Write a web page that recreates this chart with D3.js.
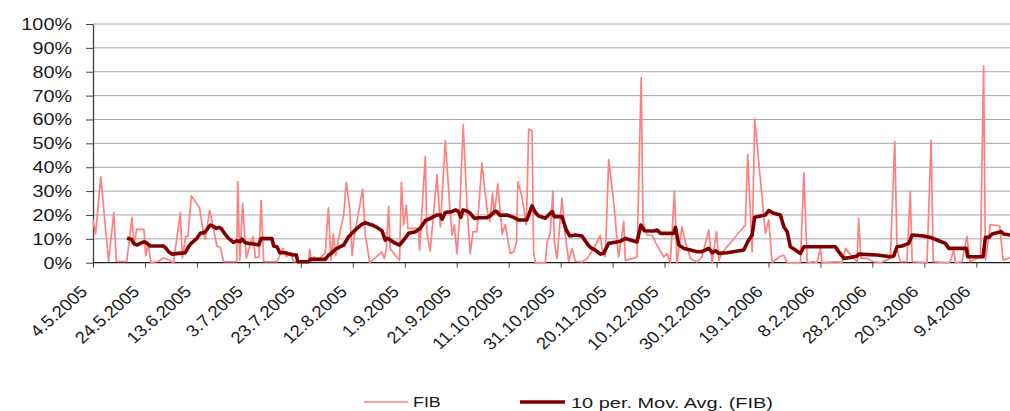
<!DOCTYPE html>
<html>
<head>
<meta charset="utf-8">
<script src="https://cdnjs.cloudflare.com/ajax/libs/d3/7.8.5/d3.min.js"></script>
<style>
  html, body { margin: 0; padding: 0; background: #fff; }
  svg { display: block; }
  text { font-family: "Liberation Sans", Arial, sans-serif; fill: #1a1a1a; }
</style>
</head>
<body>
<svg id="chart" width="1010" height="411"></svg>
<script>
// ---------------- data ----------------
const startDateLabel = "4.5.2005";
const xTickLabels = ["4.5.2005","24.5.2005","13.6.2005","3.7.2005","23.7.2005","12.8.2005",
  "1.9.2005","21.9.2005","11.10.2005","31.10.2005","20.11.2005","10.12.2005","30.12.2005",
  "19.1.2006","8.2.2006","28.2.2006","20.3.2006","9.4.2006"];
const yTickValues = [0,0.1,0.2,0.3,0.4,0.5,0.6,0.7,0.8,0.9,1.0];
const seriesNames = ["FIB", "10 per. Mov. Avg. (FIB)"];

// FIB: day offset from 4.5.2005, value in %
const fibDay = [0,1,3,6,8,9,13,15,15.8,16.8,19.6,20.3,21.2,22.3,25,27.2,29.5,31,33.6,34.4,35.7,36.5,37.9,41,
  42.6,43.2,44.9,46.4,47.7,49,50.3,55.3,55.7,56.5,57.6,59,60.3,61.6,62.5,63.9,64.7,65.7,70.8,73.1,74.4,76,
  77.2,83,83.4,84,85.2,86.2,89.4,90.6,91.6,92.5,93.4,94.5,96.5,97.5,98.8,99.7,100.6,103.8,104.8,105.5,106.5,
  111.2,112.1,112.9,113.8,114.4,116.4,118,118.7,119.6,120.6,121.2,125.3,125.7,127.9,128.5,129.8,132.4,133.7,
  135.6,137.3,138.2,139.1,140.1,140.9,142.5,144,145.2,146.3,147.8,149.7,151.6,152.7,153.8,154.5,155.8,157.5,
  158.7,160.6,161.9,163,163.5,165.1,166.8,167.7,169,169.6,170.3,174.1,174.8,176,177,177.6,178.6,180.5,181.8,
  183.1,184.4,185.7,188.2,190.2,192.7,195.3,195.9,197.2,198.5,200.4,202.3,204.3,204.9,207.5,209.4,211,211.7,
  213.3,215.2,217.1,219.7,221,222.2,223.8,224.8,226.7,228,230,232.5,234.4,237,238.3,240,240.9,242.1,251.1,
  252,253.7,254.7,258.8,260.1,261.4,264.6,265.9,267.2,272.3,273.6,274.9,277.4,278.7,280,280.6,286.4,288.3,
  289.6,292.2,294.1,294.7,295.6,297.9,300.5,303.1,306.9,308.6,309.5,310.8,313.3,314.6,315.3,321,322.6,323.4,
  328.8,330,331.3,332,334.5,336.4,337.5,341.6,342.8,343.5,345.4,349,350.3,353];
const fibValue = [18,12,36,0.5,21,0.5,0.5,19,7,14,14,3,8,0,0.5,2,1,0,21,2,11,11,28,23,
  12,10,22,14,7,6.5,0.4,0.4,34,1,25,2,7,11,2,2.5,26,0.4,0.4,6,2.5,4,
  0.4,0.5,5.6,1,2.5,1,4,23,1,12,3,10,20,33.7,22.8,3,11.5,30.8,11.5,7,0,
  4.5,1.7,5.9,23.5,5.9,3,1,33.7,15.8,24,14.4,14.4,5.2,44.6,13,4.8,36.9,15,
  51,24,11.5,15.8,3.8,15.8,57.7,22.8,3.8,13,13,41.8,22.8,17.2,29.2,20,33,12,
  16,3.8,4.5,8.7,34,27.7,15.8,56,55.2,4.5,0,0,8.7,12.3,30,8.7,1.7,27,11.5,
  0.6,5.9,0.6,0.3,1.7,5.9,11.5,5.9,2.4,43.2,25.6,2.4,17.2,1,1.7,2.4,77.7,17.2,
  11.5,11.5,7.3,2.4,3.8,0,29.9,0,15,8.7,1.7,0.3,2.4,13.7,0,13,1,4.2,15.8,
  45.4,4.5,60.5,12.3,17.9,0,2.8,3.1,0,0,37.6,0,0.4,0,6,0,0.4,0,
  6,2.5,0.4,18.6,1.8,1.8,0.4,0,1.8,50.7,5.3,0.4,0.4,29.8,0.4,0,51.4,0.4,
  0,0.4,5.3,0,0.4,11,0.4,2.5,82.4,1.1,16,15.4,1.1,2];

// 10 period moving average as drawn: day offset, value in %
const maDay = [13.1,14.8,15.7,17,18.2,19.8,20.8,22.1,27.2,28.1,29.1,30.4,33,35.5,36.8,38.1,40,41.3,42.9,43.9,
  45.2,46.4,47.5,48.4,49.3,50.6,52.2,54.1,55.4,56.5,57.4,58.6,59.9,62.5,63.8,64.7,68.9,69.5,70.8,71.9,74,
  75.7,77.2,78.3,78.8,83,83.7,89.4,90.7,91.7,93.3,95.2,96.5,98.4,99.7,101.6,103.5,104.8,106.1,107.4,109.3,
  111.2,112.5,113.4,114.4,116.4,118,119.6,121.5,124.1,126,127.9,129.8,132.4,133.7,134.4,135.6,138.2,139.5,
  140.7,141.6,142.4,143.9,145.2,146.8,148.4,151.6,152.9,154.5,155.5,156.5,159.3,161.9,163.8,167,169,170.3,
  171.5,174.1,176.7,177.6,180.5,182.2,183.5,185.6,188.2,190.1,191.4,193.3,195.3,196.5,198.5,200.4,203,204.9,
  206.8,209.4,210.9,212.2,215.8,217.1,218.4,223.5,224.2,225.5,227.4,230,232.5,234.4,237,238.3,239.6,240.9,
  244.1,250.5,252,253.7,254.7,256.9,258.8,260.1,262,264.6,265.9,267.2,268.4,270.4,272.3,273.6,285.8,287,
  289,291.5,294.1,294.7,301.8,306.9,308.2,309.5,311.4,314,315.3,319.8,322.3,324.9,328.1,329.4,336.2,336.7,
  342.6,343.5,344.8,346.1,349.5,350.6,353.1];
const maValue = [10.2,9.8,8.1,7.4,8.1,8.8,8.1,7,7,6,4.6,3.6,3.9,4.2,6.7,8.4,10.2,12.3,12.6,14,
  15.8,15.1,14.4,14.8,14.4,12.3,10.2,8.5,9.2,8.8,9.9,8.4,8.1,7.7,7.4,10.1,10.1,7,6.7,4.2,4.2,
  3.6,3.2,3.2,0.4,0.4,1.4,1.4,3.2,3.9,5.6,6.7,7.4,10.9,12.3,14.4,16.1,16.8,16.2,15.8,14.8,
  13.4,9.5,10.2,9.5,8.1,7.4,9.5,12.3,13,14.4,17.6,18.6,20,20,18.2,21,21.4,22.1,
  21.4,19,22.1,21.7,20.7,18.6,18.8,18.9,19.6,21.4,21.4,19.9,20,19,17.9,17.9,23.8,21,
  19.6,18.6,21.4,19.3,19.3,13.7,11.2,11.6,11.2,8.1,6.4,5.3,3.6,3.9,8.1,8.5,9,10.2,
  9.5,8.7,15.8,13.4,13.3,13.7,12.3,12.3,14.8,7.4,6,5.3,4.6,4.6,6,4.2,5,3.9,
  4.2,5.3,8.8,11.6,19,19.6,20,21.8,20.7,20,15.1,13,6.7,5.3,3.9,6.7,6.7,4.6,
  1.8,2.2,2.8,3.6,3.2,2.5,2.8,6.7,7,8.1,11.6,11.2,10.6,9.5,8.1,6,6,2.5,
  2.5,10.6,10.6,12,13,12,11.6];

// ---------------- chart ----------------
(function () {
const W = 1010, H = 411;
const svg = d3.select("#chart");
const parseLabel = s => { const [d, m, y] = s.split(".").map(Number); return new Date(Date.UTC(y, m - 1, d)); };
const start = parseLabel(startDateLabel);
const dayToDate = d => new Date(start.getTime() + d * 864e5);

const plotLeft = 93, plotBottom = 262.7, plotTop = 24;
const pxPerDay = 2.598;
const x = d3.scaleUtc().domain([start, dayToDate(360)]).range([plotLeft, plotLeft + 360 * pxPerDay]);
const y = d3.scaleLinear().domain([0, 1]).range([plotBottom, plotTop]);

const stretch = 1.2;

// gridlines
svg.append("g").selectAll("line").data(yTickValues.filter(v => v > 0)).join("line")
  .attr("x1", plotLeft).attr("x2", W)
  .attr("y1", d => y(d)).attr("y2", d => y(d))
  .attr("stroke", "#a6a6a6").attr("stroke-width", 1);

// y axis
const yAxis = svg.append("g").attr("transform", `translate(${plotLeft},0)`)
  .call(d3.axisLeft(y).tickValues(yTickValues).tickFormat(d3.format(".0%")).tickSize(7).tickSizeOuter(0));
yAxis.select(".domain").attr("stroke", "#404040").attr("stroke-width", 1.3);
yAxis.selectAll(".tick line").attr("stroke", "#404040");
yAxis.selectAll(".tick text").remove();
yAxis.selectAll(".tick").append("text")
  .attr("transform", `translate(-21,0) scale(${stretch},1)`)
  .attr("text-anchor", "end").attr("dominant-baseline", "central")
  .attr("font-size", 16.5).attr("fill", "#1a1a1a")
  .text(d => d3.format(".0%")(d));

// x axis
const xTicks = xTickLabels.map(parseLabel);
const xAxis = svg.append("g").attr("transform", `translate(0,${plotBottom})`)
  .call(d3.axisBottom(x).tickValues(xTicks).tickFormat("").tickSize(5).tickSizeOuter(0));
xAxis.select(".domain").attr("stroke", "#1a1a1a").attr("stroke-width", 1.3).attr("d", `M${plotLeft},0H${W}`);
xAxis.selectAll(".tick line").attr("stroke", "#404040");
xAxis.selectAll(".tick text").remove();
xAxis.selectAll(".tick").append("text")
  .data(xTickLabels)
  .attr("transform", `translate(-5,30) scale(1.12,1) rotate(-45)`)
  .attr("text-anchor", "end")
  .attr("font-size", 16.5).attr("fill", "#1a1a1a")
  .text(d => d);

// lines
const fibData = fibDay.map((d, i) => [dayToDate(d), fibValue[i] / 100]);
const maData = maDay.map((d, i) => [dayToDate(d), maValue[i] / 100]);
const line = d3.line().x(d => x(d[0])).y(d => y(d[1]));

svg.append("path").datum(fibData).attr("d", line)
  .attr("fill", "none").attr("stroke", "#ff8080").attr("stroke-width", 1.7)
  .attr("stroke-linejoin", "round");
svg.append("path").datum(maData).attr("d", line)
  .attr("fill", "none").attr("stroke", "#800000").attr("stroke-width", 3.6)
  .attr("stroke-linejoin", "round");

// legend
const lg = svg.append("g");
lg.append("line").attr("x1", 364).attr("x2", 408).attr("y1", 402).attr("y2", 402)
  .attr("stroke", "#ff8080").attr("stroke-width", 1.7);
lg.append("text").attr("transform", `translate(413,402) scale(1.15,1)`)
  .attr("dominant-baseline", "central").attr("font-size", 15.5).text(seriesNames[0]);
lg.append("line").attr("x1", 520).attr("x2", 565).attr("y1", 402).attr("y2", 402)
  .attr("stroke", "#800000").attr("stroke-width", 3.6);
lg.append("text").attr("x", 571).attr("y", 402)
  .attr("dominant-baseline", "central").attr("font-size", 15.5)
  .attr("textLength", 202).attr("lengthAdjust", "spacingAndGlyphs").text(seriesNames[1]);
})();
</script>
</body>
</html>
